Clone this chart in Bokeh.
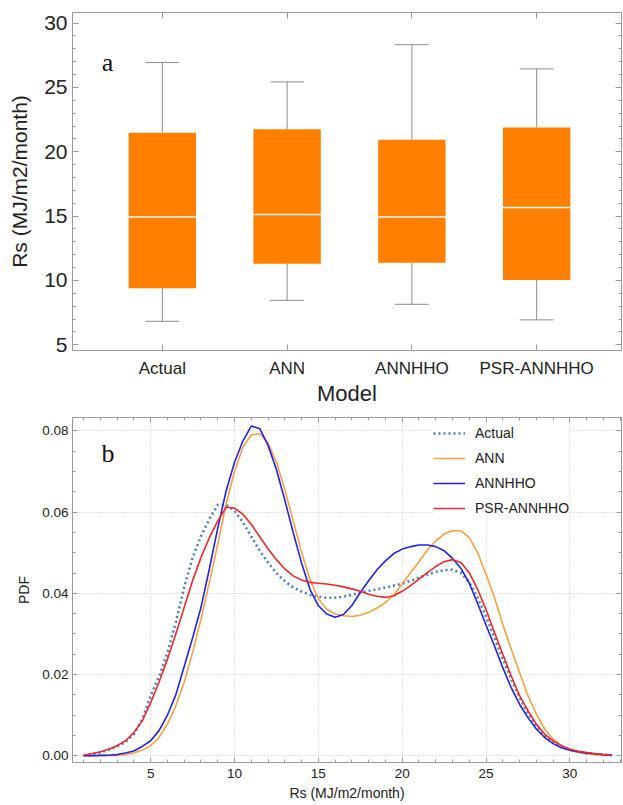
from bokeh.plotting import figure
from bokeh.layouts import column
from bokeh.models import (SingleIntervalTicker, FixedTicker, PrintfTickFormatter,
                          Legend, LegendItem, Label, LinearAxis)
from bokeh.embed import file_html
from bokeh.resources import INLINE

# ---------------- data: panel a (box plot) ----------------
models = ["Actual", "ANN", "ANNHHO", "PSR-ANNHHO"]
whisker_low = [6.83, 8.46, 8.15, 6.94]
q1 = [9.39, 11.30, 11.38, 10.04]
median = [14.94, 15.12, 14.94, 15.67]
q3 = [21.48, 21.74, 20.94, 21.89]
whisker_high = [26.93, 25.43, 28.32, 26.44]

# ---------------- data: panel b (PDF curves) ----------------
rs = [1, 1.5, 2, 2.5, 3, 3.5, 4, 4.5, 5, 5.5, 6, 6.5, 7, 7.5, 8, 8.5, 9, 9.5,
      10, 10.5, 11, 11.5, 12, 12.5, 13, 13.5, 14, 14.5, 15, 15.5, 16, 16.5,
      17, 17.5, 18, 18.5, 19, 19.5, 20, 20.5, 21, 21.5, 22, 22.5, 23, 23.5,
      24, 24.5, 25, 25.5, 26, 26.5, 27, 27.5, 28, 28.5, 29, 29.5, 30, 30.5,
      31, 31.5, 32, 32.5]
pdf_actual = [0.00015, 0.0004, 0.0008, 0.0015, 0.0023, 0.0034, 0.0053, 0.0090,
              0.0148, 0.0195, 0.0254, 0.0328, 0.0415, 0.0488, 0.0540, 0.0583,
              0.0618, 0.0618, 0.0603, 0.0575, 0.0540, 0.0505, 0.0476, 0.0450,
              0.0430, 0.0415, 0.0405, 0.0396, 0.0392, 0.0389, 0.0389, 0.0392,
              0.0396, 0.0402, 0.0406, 0.0410, 0.0414, 0.0419, 0.0424, 0.0431,
              0.0439, 0.0446, 0.0453, 0.0457, 0.0458, 0.0451, 0.0427, 0.0390,
              0.0343, 0.0291, 0.0238, 0.0189, 0.0144, 0.0104, 0.0074, 0.0049,
              0.0033, 0.0022, 0.0015, 0.0010, 0.00065, 0.0004, 0.00025, 0.00015]
pdf_ann = [0.0, 0.0, 0.00005, 0.00008, 0.0001, 0.0003, 0.0007, 0.0014,
           0.0025, 0.0045, 0.0078, 0.0123, 0.0181, 0.0254, 0.0336, 0.0427,
           0.0520, 0.0620, 0.0700, 0.0760, 0.0790, 0.0793, 0.0770, 0.0723,
           0.0656, 0.0579, 0.0501, 0.0435, 0.0387, 0.0361, 0.0349, 0.0345,
           0.0343, 0.0346, 0.0353, 0.0364, 0.0377, 0.0396, 0.0423, 0.0451,
           0.0478, 0.0506, 0.0529, 0.0546, 0.0554, 0.0554, 0.0538, 0.0500,
           0.0447, 0.0390, 0.0324, 0.0263, 0.0205, 0.0148, 0.0103, 0.0066,
           0.0041, 0.0025, 0.0014, 0.0008, 0.0005, 0.0003, 0.0002, 0.00015]
pdf_annhho = [0.0, 0.0, 0.0001, 0.00015, 0.0003, 0.0007, 0.0012, 0.0023,
              0.0037, 0.0062, 0.0100, 0.0150, 0.0220, 0.0290, 0.0365, 0.0460,
              0.0560, 0.0652, 0.0722, 0.0775, 0.0812, 0.0806, 0.0765, 0.0705,
              0.0630, 0.0550, 0.0475, 0.0410, 0.0370, 0.0349, 0.0341, 0.0348,
              0.0370, 0.0402, 0.0431, 0.0458, 0.0480, 0.0498, 0.0509, 0.0515,
              0.0519, 0.0519, 0.0515, 0.0505, 0.0486, 0.0462, 0.0425, 0.0375,
              0.0322, 0.0271, 0.0217, 0.0168, 0.0127, 0.0094, 0.0066, 0.0045,
              0.0030, 0.0020, 0.0014, 0.0010, 0.00065, 0.0005, 0.0003, 0.00015]
pdf_psr = [0.00015, 0.0005, 0.0010, 0.0016, 0.0025, 0.0037, 0.0057, 0.0086,
           0.0131, 0.0181, 0.0238, 0.0300, 0.0365, 0.0431, 0.0488, 0.0537,
           0.0578, 0.0612, 0.0610, 0.0595, 0.0570, 0.0540, 0.0510, 0.0483,
           0.0460, 0.0443, 0.0433, 0.0427, 0.0425, 0.0423, 0.0420, 0.0416,
           0.0411, 0.0405, 0.0398, 0.0393, 0.0390, 0.0394, 0.0405, 0.0419,
           0.0435, 0.0451, 0.0466, 0.0478, 0.0483, 0.0476, 0.0451, 0.0410,
           0.0360, 0.0304, 0.0250, 0.0197, 0.0148, 0.0111, 0.0078, 0.0053,
           0.0037, 0.0025, 0.0016, 0.0011, 0.0008, 0.0005, 0.0003, 0.00015]

FONT = "Liberation Sans"
FRAME = "#9a9a9a"


def style_axis(ax, tick_in, minor_in):
    ax.axis_line_color = FRAME
    ax.major_tick_line_color = FRAME
    ax.minor_tick_line_color = FRAME
    ax.major_tick_in = tick_in
    ax.major_tick_out = 0
    ax.minor_tick_in = minor_in
    ax.minor_tick_out = 0
    ax.major_label_text_font = FONT
    ax.major_label_text_color = "#222222"
    ax.axis_label_text_font = FONT
    ax.axis_label_text_font_style = "normal"
    ax.axis_label_text_color = "#222222"


def mirror_axis(p, ticker, side, tick_in, minor_in):
    ax = LinearAxis(ticker=ticker)
    style_axis(ax, tick_in, minor_in)
    ax.major_label_text_font_size = "1px"
    ax.major_label_text_color = None
    ax.major_label_standoff = 0
    p.add_layout(ax, side)


# ---------------- panel a ----------------
p1 = figure(width=623, height=408, x_range=(-0.72, 3.68), y_range=(4.56, 30.82),
            output_backend="svg", toolbar_location=None,
            min_border_left=72, min_border_right=0, min_border_top=12, min_border_bottom=57)
p1.grid.visible = False
p1.outline_line_color = FRAME

xs = list(range(len(models)))
bw = 0.54
cw = 0.27
p1.segment(x0=xs, y0=q3, x1=xs, y1=whisker_high, line_color="#8c8c8c", line_width=1)
p1.segment(x0=xs, y0=q1, x1=xs, y1=whisker_low, line_color="#8c8c8c", line_width=1)
p1.segment(x0=[x - cw / 2 for x in xs], y0=whisker_high, x1=[x + cw / 2 for x in xs],
           y1=whisker_high, line_color="#8c8c8c", line_width=1)
p1.segment(x0=[x - cw / 2 for x in xs], y0=whisker_low, x1=[x + cw / 2 for x in xs],
           y1=whisker_low, line_color="#8c8c8c", line_width=1)
p1.vbar(x=xs, width=bw, bottom=q1, top=q3, fill_color="#FF7F00", line_color=None)
p1.segment(x0=[x - bw / 2 for x in xs], y0=median, x1=[x + bw / 2 for x in xs],
           y1=median, line_color="white", line_width=1.5)

p1.xaxis.ticker = FixedTicker(ticks=xs)
p1.xaxis.major_label_overrides = {i: m for i, m in enumerate(models)}
p1.yaxis.ticker = SingleIntervalTicker(interval=5, num_minor_ticks=5)
style_axis(p1.xaxis[0], 6, 3)
style_axis(p1.yaxis[0], 6, 3)
p1.xaxis.major_label_text_font_size = "17px"
p1.xaxis.major_label_standoff = 8
p1.xaxis.axis_label = "Model"
p1.xaxis.axis_label_text_font_size = "22px"
p1.xaxis.axis_label_standoff = 0
p1.yaxis.major_label_text_font_size = "21px"
p1.yaxis.major_label_standoff = 5
p1.yaxis.axis_label = "Rs (MJ/m2/month)"
p1.yaxis.axis_label_text_font_size = "21px"
p1.yaxis.axis_label_standoff = 10
mirror_axis(p1, FixedTicker(ticks=xs), "above", 6, 3)
mirror_axis(p1, SingleIntervalTicker(interval=5, num_minor_ticks=5), "right", 6, 3)

p1.add_layout(Label(x=-0.44, y=26.9, text="a", text_font="Liberation Serif",
                    text_font_size="26px", text_align="center", text_baseline="middle",
                    text_color="#111111"))

# ---------------- panel b ----------------
p2 = figure(width=623, height=396, x_range=(0.34, 33.08), y_range=(-0.00165, 0.0833),
            output_backend="svg", toolbar_location=None,
            min_border_left=62, min_border_right=2, min_border_top=9, min_border_bottom=42)
p2.outline_line_color = FRAME
p2.grid.grid_line_color = "#c8c8c8"
p2.grid.grid_line_dash = "1 2"
p2.grid.grid_line_width = 1

p2.xaxis.ticker = SingleIntervalTicker(interval=5, num_minor_ticks=5)
p2.yaxis.ticker = SingleIntervalTicker(interval=0.02, num_minor_ticks=4)
p2.yaxis.formatter = PrintfTickFormatter(format="%.2f")
for ax in (p2.xaxis[0], p2.yaxis[0]):
    style_axis(ax, 5, 3)
    ax.major_label_text_font_size = "13.5px"
    ax.major_label_standoff = 6
    ax.axis_label_text_font_size = "14px"
p2.yaxis.major_label_standoff = 4
p2.xaxis.axis_label = "Rs (MJ/m2/month)"
p2.xaxis.axis_label_standoff = 4
p2.yaxis.axis_label = "PDF"
p2.yaxis.axis_label_standoff = 7
mirror_axis(p2, SingleIntervalTicker(interval=5, num_minor_ticks=5), "above", 5, 3)
mirror_axis(p2, SingleIntervalTicker(interval=0.02, num_minor_ticks=4), "right", 5, 3)

r_act = p2.line(rs, pdf_actual, line_color="#4D7FBF", line_width=2.6, line_dash="2 3")
r_ann = p2.line(rs, pdf_ann, line_color="#F8A040", line_width=1.6)
r_hho = p2.line(rs, pdf_annhho, line_color="#2222E6", line_width=1.6)
r_psr = p2.line(rs, pdf_psr, line_color="#F02828", line_width=1.6)

legend = Legend(items=[LegendItem(label=models[0], renderers=[r_act]),
                       LegendItem(label=models[1], renderers=[r_ann]),
                       LegendItem(label=models[2], renderers=[r_hho]),
                       LegendItem(label=models[3], renderers=[r_psr])],
                location=(361, 244), background_fill_color="white", background_fill_alpha=1,
                border_line_color=None, label_text_font=FONT, label_text_font_size="14px",
                label_text_color="#222222", glyph_width=32, glyph_height=16,
                label_height=20, spacing=5, padding=4, label_standoff=10, margin=0)
p2.add_layout(legend)

p2.add_layout(Label(x=2.45, y=0.0745, text="b", text_font="Liberation Serif",
                    text_font_size="26px", text_align="center", text_baseline="middle",
                    text_color="#111111"))

layout = column(p1, p2, spacing=0)
open("out.html", "w").write(file_html(layout, INLINE))
